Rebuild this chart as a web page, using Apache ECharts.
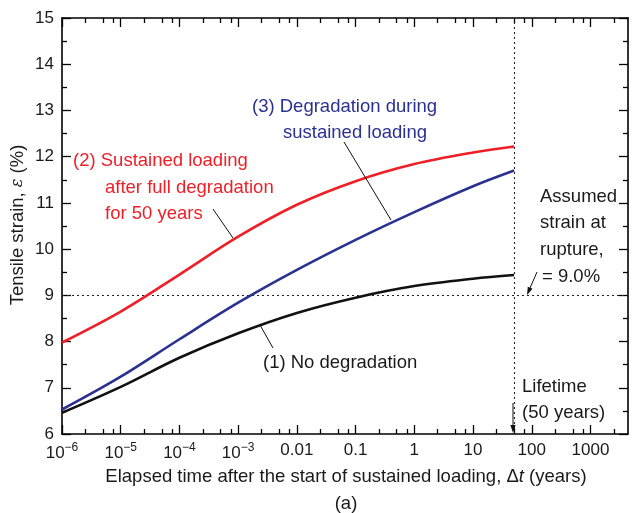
<!DOCTYPE html>
<html>
<head>
<meta charset="utf-8">
<script src="https://cdn.jsdelivr.net/npm/echarts@6/dist/echarts.min.js"></script>
<style>
  html, body { margin: 0; padding: 0; background: #fff; }
  #chart { width: 632px; height: 513px; }
</style>
</head>
<body>
<div id="chart"></div>
<script>
// Elapsed time after loading starts (years)
const time = [1e-6, 1e-5, 1e-4, 1e-3, 0.01, 0.1, 1, 10, 50];
// Tensile strain (%) for the three cases
const noDegradation = [6.46, 7.02, 7.65, 8.18, 8.62, 8.95, 9.20, 9.36, 9.44];
const sustainedAfterDegradation = [7.98, 8.65, 9.45, 10.27, 10.96, 11.47, 11.84, 12.09, 12.22];
const degradationDuringLoading = [6.53, 7.24, 8.05, 8.84, 9.55, 10.20, 10.80, 11.36, 11.70];

// Reference values
const ruptureStrain = 9.0;
const lifetime = 50;

// Axis ticks
const xMajorTicks = [1e-6, 1e-5, 1e-4, 1e-3, 0.01, 0.1, 1, 10, 100, 1000];
const xTickLabels = ['10|−6', '10|−5', '10|−4', '10|−3', '0.01', '0.1', '1', '10', '100', '1000'];
const xMinorMantissas = [2.5, 5, 7.5];
const xMin = 1e-6, xMax = 4350;
const yMin = 6, yMax = 15;

const xMinorTicks = [];
xMajorTicks.forEach(d => xMinorMantissas.forEach(m => {
  const v = d * m;
  if (v < xMax) xMinorTicks.push(v);
}));

const pair = (xs, ys) => xs.map((x, i) => [x, ys[i]]);

const FONT = 'Liberation Sans, Arial, Helvetica, sans-serif';
const TEXT = '#1a1a1a';
const RED = '#ee1f26';
const BLUE = '#2b3190';
const ANNO_SIZE = 18.5;
const TICK_SIZE = 17;

function xLabel(v) {
  let idx = -1, best = Infinity;
  xMajorTicks.forEach((t, i) => {
    const d = Math.abs(Math.log10(t) - Math.log10(v));
    if (d < best) { best = d; idx = i; }
  });
  const s = xTickLabels[idx];
  if (s.indexOf('|') >= 0) {
    const p = s.split('|');
    return '{b|' + p[0] + '}{s|' + p[1] + '}';
  }
  return '{b|' + s + '}';
}

const grid = { left: 62, right: 4, top: 18, bottom: 79 };

const baseX = {
  type: 'log', logBase: 10, min: xMin, max: xMax, gridIndex: 0,
  splitLine: { show: false }, minorTick: { show: false }, minorSplitLine: { show: false }
};
const tickLine = { color: '#000', width: 1.3 };
const axisLine = { show: true, lineStyle: { color: '#000', width: 1.6 } };

const option = {
  animation: false,
  backgroundColor: '#fff',
  grid: grid,
  xAxis: [
    Object.assign({}, baseX, {
      position: 'bottom', axisLine: axisLine,
      axisTick: { show: true, inside: true, length: 9, lineStyle: tickLine, customValues: xMajorTicks },
      axisLabel: {
        show: true, margin: 8, customValues: xMajorTicks, formatter: xLabel,
        rich: {
          b: { fontFamily: FONT, fontSize: TICK_SIZE, color: TEXT },
          s: { fontFamily: FONT, fontSize: 12, color: TEXT, padding: [0, 0, 11, 0] }
        }
      }
    }),
    Object.assign({}, baseX, {
      position: 'bottom', axisLine: { show: false },
      axisTick: { show: true, inside: true, length: 5, lineStyle: tickLine, customValues: xMinorTicks },
      axisLabel: { show: false }
    }),
    Object.assign({}, baseX, {
      position: 'top', axisLine: axisLine,
      axisTick: { show: true, inside: true, length: 9, lineStyle: tickLine, customValues: xMajorTicks },
      axisLabel: { show: false }
    }),
    Object.assign({}, baseX, {
      position: 'top', axisLine: { show: false },
      axisTick: { show: true, inside: true, length: 5, lineStyle: tickLine, customValues: xMinorTicks },
      axisLabel: { show: false }
    })
  ],
  yAxis: [
    {
      type: 'value', min: yMin, max: yMax, interval: 1, position: 'left', axisLine: axisLine,
      axisTick: { show: true, inside: true, length: 9, lineStyle: tickLine },
      minorTick: { show: true, splitNumber: 2, length: 5, lineStyle: tickLine },
      axisLabel: { margin: 8, fontFamily: FONT, fontSize: TICK_SIZE, color: TEXT },
      splitLine: { show: false }
    },
    {
      type: 'value', min: yMin, max: yMax, interval: 1, position: 'right', axisLine: axisLine,
      axisTick: { show: true, inside: true, length: 9, lineStyle: tickLine },
      minorTick: { show: true, splitNumber: 2, length: 5, lineStyle: tickLine },
      axisLabel: { show: false },
      splitLine: { show: false }
    }
  ],
  series: [
    {
      name: '(1) No degradation', type: 'line', smooth: 0.35, showSymbol: false,
      data: pair(time, noDegradation),
      lineStyle: { color: '#111', width: 2.6 }, z: 5,
      markLine: {
        silent: true, symbol: 'none', animation: false,
        label: { show: false },
        lineStyle: { color: '#222', width: 1.1, type: [2, 3] },
        data: [{ yAxis: ruptureStrain }, { xAxis: lifetime }]
      }
    },
    {
      name: '(2) Sustained loading after full degradation', type: 'line', smooth: 0.35, showSymbol: false,
      data: pair(time, sustainedAfterDegradation),
      lineStyle: { color: RED, width: 2.6 }, z: 5
    },
    {
      name: '(3) Degradation during sustained loading', type: 'line', smooth: 0.35, showSymbol: false,
      data: pair(time, degradationDuringLoading),
      lineStyle: { color: BLUE, width: 2.6 }, z: 5
    }
  ]
};

const chart = echarts.init(document.getElementById('chart'), null, { renderer: 'canvas' });
chart.setOption(option);

// Annotations: texts, leader lines and arrows
function text(x, y, str, color) {
  return {
    type: 'text', x: x, y: y, z: 20,
    style: { text: str, font: ANNO_SIZE + 'px ' + FONT, fill: color, verticalAlign: 'middle', align: 'left' }
  };
}
function leader(x1, y1, x2, y2) {
  return { type: 'line', z: 20, shape: { x1: x1, y1: y1, x2: x2, y2: y2 }, style: { stroke: '#111', lineWidth: 1 } };
}
function arrow(x1, y1, x2, y2) {
  const dx = x2 - x1, dy = y2 - y1, L = Math.hypot(dx, dy);
  const ux = dx / L, uy = dy / L, h = 8, w = 2.6;
  const bx = x2 - ux * h, by = y2 - uy * h;
  return [
    leader(x1, y1, bx + ux, by + uy),
    { type: 'polygon', z: 20, shape: { points: [[x2, y2], [bx - uy * w, by + ux * w], [bx + uy * w, by - ux * w]] }, style: { fill: '#111' } }
  ];
}

const graphics = [
  text(73, 161, '(2) Sustained loading', RED),
  text(105, 188, 'after full degradation', RED),
  text(105, 214, 'for 50 years', RED),
  leader(213, 209, 233, 238),

  text(252, 107, '(3) Degradation during', BLUE),
  text(283, 133, 'sustained loading', BLUE),
  leader(344, 142, 391, 220),

  text(263, 363, '(1) No degradation', TEXT),
  leader(273, 348, 260, 325),

  text(540, 197, 'Assumed', TEXT),
  text(540, 223, 'strain at', TEXT),
  text(540, 250, 'rupture,', TEXT),
  text(542, 277, '= 9.0%', TEXT),
  ...arrow(537, 272, 527, 295),

  text(522, 387, 'Lifetime', TEXT),
  text(522, 413, '(50 years)', TEXT),
  ...arrow(513, 403, 513, 433),

  // axis titles and caption
  {
    type: 'text', x: 346, y: 477, z: 20,
    style: {
      text: '{n|Elapsed time after the start of sustained loading, Δ}{i|t}{n| (years)}',
      align: 'center', verticalAlign: 'middle',
      rich: {
        n: { fontFamily: FONT, fontSize: ANNO_SIZE, fill: TEXT },
        i: { fontFamily: FONT, fontSize: ANNO_SIZE, fontStyle: 'italic', fill: TEXT }
      }
    }
  },
  {
    type: 'text', x: 18, y: 225, rotation: Math.PI / 2, z: 20,
    style: {
      text: '{n|Tensile strain, }{i|ε}{n| (%)}',
      align: 'center', verticalAlign: 'middle',
      rich: {
        n: { fontFamily: FONT, fontSize: ANNO_SIZE, fill: TEXT },
        i: { fontFamily: 'DejaVu Serif, serif', fontSize: 16, fontStyle: 'italic', fill: TEXT }
      }
    }
  },
  {
    type: 'text', x: 346, y: 504, z: 20,
    style: { text: '(a)', font: ANNO_SIZE + 'px ' + FONT, fill: TEXT, align: 'center', verticalAlign: 'middle' }
  }
];

chart.setOption({ graphic: graphics });
</script>
</body>
</html>
